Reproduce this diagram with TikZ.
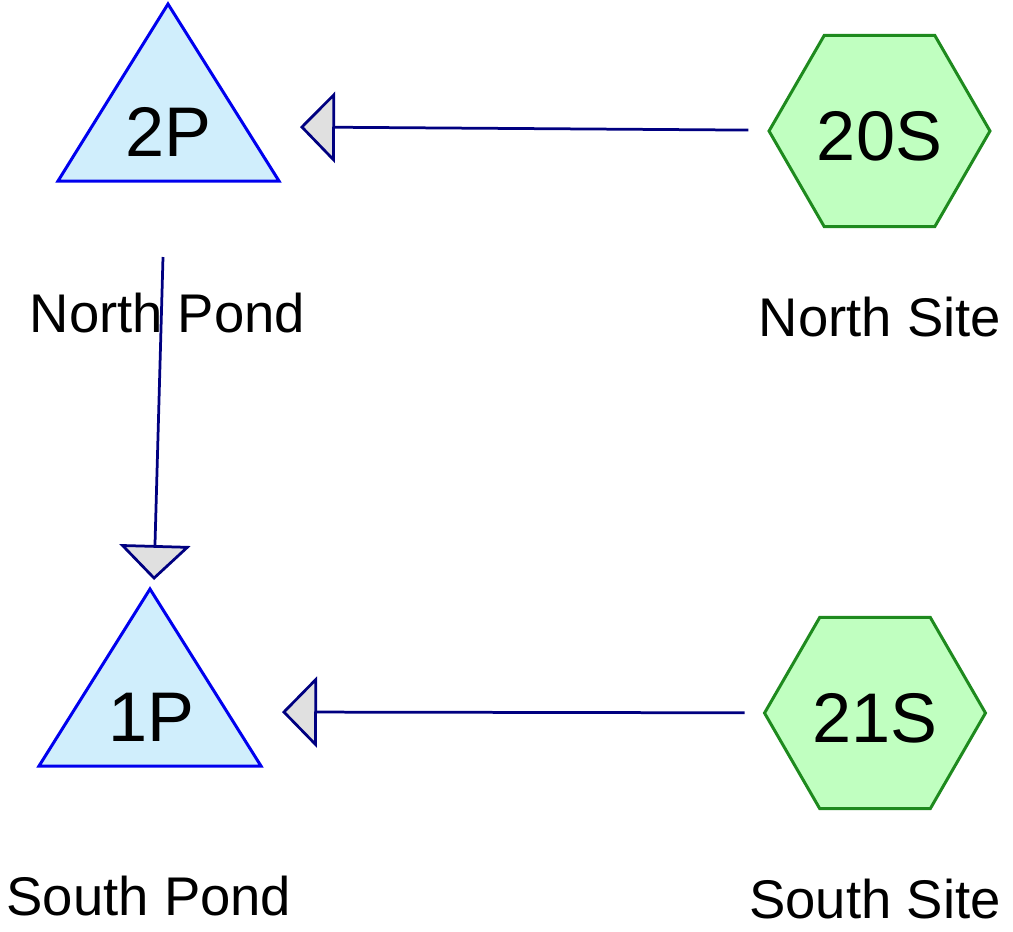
\documentclass[tikz,border=0pt]{standalone}
\usepackage{fontspec}
\setmainfont{Liberation Sans}
\usepackage{xcolor}
\usetikzlibrary{arrows.meta, shapes.geometric}

\definecolor{pondfill}{HTML}{D0EEFC}
\definecolor{pondline}{HTML}{0000EE}
\definecolor{sitefill}{HTML}{C0FFC0}
\definecolor{siteline}{HTML}{1E8A1E}
\definecolor{flowline}{HTML}{000080}
\definecolor{tipfill}{HTML}{E0E0E0}

\begin{document}
\begin{tikzpicture}[x=0.02cm, y=-0.02cm,
    pond/.style={draw=pondline, fill=pondfill, line width=0.06cm, line join=miter},
    code/.style={anchor=base, inner sep=0pt, font=\fontsize{40}{48}\selectfont},
    site/.style={draw=siteline, fill=sitefill, line width=0.06cm,
                 regular polygon, regular polygon sides=6, minimum size=4.42cm,
                 inner sep=0pt, outer sep=0pt, text height=1.16cm, text depth=0pt,
                 font=\fontsize{40}{48}\selectfont},
    lbl/.style={anchor=base, inner sep=0pt, font=\fontsize{31}{37}\selectfont},
    flow/.style={draw=flowline, line width=0.055cm,
                 -{Triangle[length=0.7cm, width=1.42cm, fill=tipfill]}}
  ]
  \useasboundingbox (0,0) rectangle (1013,931);
  % Ponds
  \draw[pond] (168,4) -- (279,181) -- (58,181) -- cycle;
  \node[code] (p2) at (168.5,156) {2P};
  \draw[pond] (150,589) -- (261,766) -- (39,766) -- cycle;
  \node[code] (p1) at (151,741) {1P};
  % Sites
  \node[site] (s20) at (879.5,131) {20S};
  \node[site] (s21) at (875,713) {21S};
  % Labels
  \foreach \n/\x/\y/\txt in {p2l/167.5/332/North Pond, s20l/880/336/North Site,
                             p1l/149/915/South Pond, s21l/875/918/South Site} {
    \node[lbl] (\n) at (\x,\y) {\txt};
  }
  % Flows
  \coordinate (p2in) at (300,127);
  \coordinate (p2out) at (163,257);
  \coordinate (p1top) at (154,580);
  \coordinate (p1in) at (282,712);
  \draw[flow, shorten <=0.42cm] (s20) -- (p2in);
  \draw[flow] (p2out) -- (p1top);
  \draw[flow, shorten <=0.4cm] (s21) -- (p1in);
\end{tikzpicture}
\end{document}
